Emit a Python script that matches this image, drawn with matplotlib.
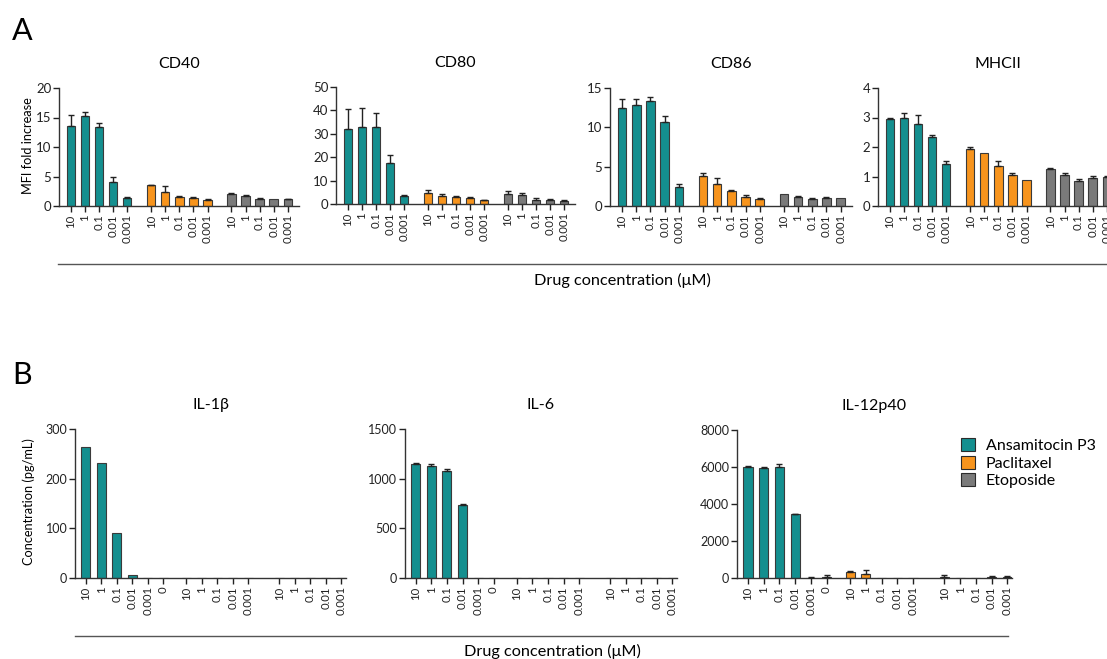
import matplotlib
matplotlib.use("Agg")
import matplotlib.pyplot as plt
import numpy as np
from matplotlib.lines import Line2D
from matplotlib.patches import Patch

plt.rcParams["font.family"] = ["Lato", "DejaVu Sans"]

W, H = 1107, 659

TEAL = "#148f8f"
ORANGE = "#f7941d"
GRAY = "#7a7a7a"
COLORS = [TEAL, ORANGE, GRAY]
DRUGS = ["Ansamitocin P3", "Paclitaxel", "Etoposide"]

# concentration labels (uM)
conc = ["10", "1", "0.1", "0.01", "0.001"]
conc_b = ["10", "1", "0.1", "0.01", "0.001", "0"]

# ---- panel A: MFI fold increase, [ansamitocin, paclitaxel, etoposide]
cd40 = [[13.6, 15.2, 13.4, 4.1, 1.3], [3.5, 2.3, 1.6, 1.4, 1.1], [2.1, 1.75, 1.2, 1.15, 1.2]]
cd40_err = [[1.9, 0.8, 0.6, 0.9, 0.2], [0.1, 1.1, 0.15, 0.1, 0.05], [0.05, 0.15, 0.1, 0, 0.05]]

cd80 = [[31.9, 33.0, 33.0, 17.4, 3.4], [4.5, 3.5, 3.0, 2.5, 1.6], [4.2, 3.8, 1.8, 1.7, 1.4]]
cd80_err = [[8.5, 8.1, 5.8, 3.7, 0.6], [1.3, 0.9, 0.5, 0.5, 0.1], [1.2, 0.7, 0.7, 0.4, 0.3]]

cd86 = [[12.4, 12.8, 13.4, 10.7, 2.45], [3.8, 2.8, 1.95, 1.1, 0.9], [1.5, 1.2, 0.9, 1.05, 1.0]]
cd86_err = [[1.2, 0.8, 0.5, 0.8, 0.35], [0.35, 0.8, 0.05, 0.3, 0.1], [0, 0.1, 0.15, 0.05, 0]]

mhcii = [[2.95, 2.98, 2.78, 2.33, 1.43], [1.94, 1.78, 1.37, 1.04, 0.87], [1.25, 1.04, 0.85, 0.96, 0.97]]
mhcii_err = [[0.05, 0.17, 0.31, 0.08, 0.08], [0.06, 0, 0.16, 0.07, 0], [0.05, 0.07, 0.07, 0.05, 0.05]]

# ---- panel B: cytokines (pg/mL)
il1b = [[263, 231, 91, 6.7, 0, 0], [0, 0, 0, 0, 0], [0, 0, 0, 0, 0]]
il1b_err = [[0, 0, 0, 0, 0, 0], [0, 0, 0, 0, 0], [0, 0, 0, 0, 0]]

il6 = [[1150, 1123, 1076, 733, 0, 0], [0, 0, 0, 0, 0], [0, 0, 0, 0, 0]]
il6_err = [[7, 27, 24, 10, 0, 0], [0, 0, 0, 0, 0], [0, 0, 0, 0, 0]]

il12 = [[6005, 5970, 6005, 3435, 20, 50], [300, 215, 0, 0, 0], [35, 0, 0, 30, 30]]
il12_err = [[35, 20, 145, 35, 30, 130], [60, 235, 0, 0, 0], [105, 0, 0, 70, 90]]


def px_rect(left, right, top, bottom):
    return [left / W, 1 - bottom / H, (right - left) / W, (bottom - top) / H]


fig = plt.figure(figsize=(W / 100, H / 100), dpi=100)


def panel(rect, title, means, errs, labels, starts, xlim, yticks, width, ytick_fs):
    ax = fig.add_axes(rect)
    xs_all, labs_all = [], []
    for g, (m, e) in enumerate(zip(means, errs)):
        m = np.asarray(m, float)
        e = np.asarray(e, float)
        x = starts[g] + np.arange(len(m))
        ax.bar(x, m, width=width, color=COLORS[g], edgecolor="#3a3a3a", linewidth=0.8, zorder=2)
        k = e > 0
        if k.any():
            ax.errorbar(x[k], m[k], yerr=[np.zeros(k.sum()), e[k]], fmt="none",
                        ecolor="#222222", elinewidth=1, capsize=2.5, capthick=1, zorder=3)
        xs_all += list(x)
        labs_all += labels[g]
    ax.set_xticks(xs_all)
    ax.set_xticklabels(labs_all, rotation=90, fontsize=8.2, color="#222222")
    ax.set_xlim(*xlim)
    ax.set_yticks(yticks)
    ax.set_ylim(0, yticks[-1])
    ax.tick_params(axis="y", labelsize=ytick_fs, colors="#222222", length=4, width=1, pad=1.5)
    ax.tick_params(axis="x", length=4, width=1, pad=2, colors="#222222")
    for s in ["top", "right"]:
        ax.spines[s].set_visible(False)
    for s in ["left", "bottom"]:
        ax.spines[s].set_color("#333333")
        ax.spines[s].set_linewidth(1)
    ax.set_title(title, fontsize=11.5, pad=14.5)
    return ax


# panel A
starts_a = [0, 5.7, 11.4]
xlim_a = (-0.85, 16.2)
labs_a = [conc, conc, conc]
panel(px_rect(59, 299, 88, 206), "CD40", cd40, cd40_err, labs_a, starts_a, xlim_a, [0, 5, 10, 15, 20], 0.6, 9.5)
panel(px_rect(336, 575, 87, 204), "CD80", cd80, cd80_err, labs_a, starts_a, xlim_a, [0, 10, 20, 30, 40, 50], 0.6, 9.5)
panel(px_rect(610, 852, 88, 206), "CD86", cd86, cd86_err, labs_a, starts_a, xlim_a, [0, 5, 10, 15], 0.6, 9.5)
panel(px_rect(878, 1118, 88, 206), "MHCII", mhcii, mhcii_err, labs_a, starts_a, xlim_a, [0, 1, 2, 3, 4], 0.6, 9.5)

# panel B
starts_b = [0, 6.5, 12.5]
xlim_b = (-0.7, 16.8)
labs_b = [conc_b, conc, conc]
panel(px_rect(75, 346, 429, 578), "IL-1β", il1b, il1b_err, labs_b, starts_b, xlim_b, [0, 100, 200, 300], 0.58, 9)
panel(px_rect(405, 677, 429, 578), "IL-6", il6, il6_err, labs_b, starts_b, xlim_b, [0, 500, 1000, 1500], 0.58, 9)
panel(px_rect(737, 1012, 430, 578), "IL-12p40", il12, il12_err, labs_b, starts_b, xlim_b,
      [0, 2000, 4000, 6000, 8000], 0.58, 9)

# panel letters, axis labels, separator lines
fig.text(12 / W, 1 - 40 / H, "A", fontsize=22, va="baseline")
fig.text(12 / W, 1 - 384 / H, "B", fontsize=22, va="baseline")
fig.text(28 / W, 1 - 146 / H, "MFI fold increase", rotation=90, ha="center", va="center", fontsize=9.2)
fig.text(29 / W, 1 - 502 / H, "Concentration (pg/mL)", rotation=90, ha="center", va="center", fontsize=9.2)
fig.add_artist(Line2D([58 / W, 1.0], [1 - 264 / H] * 2, color="#555555", lw=1))
fig.add_artist(Line2D([75 / W, 1008 / W], [1 - 636 / H] * 2, color="#555555", lw=1))
fig.text(622 / W, 1 - 280 / H, "Drug concentration (μM)", ha="center", va="center", fontsize=11.7)
fig.text(552 / W, 1 - 651 / H, "Drug concentration (μM)", ha="center", va="center", fontsize=11.7)

handles = [Patch(facecolor=c, edgecolor="#2b2b2b", linewidth=0.8) for c in COLORS]
fig.legend(handles, DRUGS, loc="upper left", bbox_to_anchor=(961 / W, 1 - 438 / H),
           frameon=False, fontsize=11.5, handlelength=0.85, handleheight=0.9,
           handletextpad=0.7, labelspacing=0.15, borderpad=0, borderaxespad=0)

fig.savefig("out.png", dpi=100)
